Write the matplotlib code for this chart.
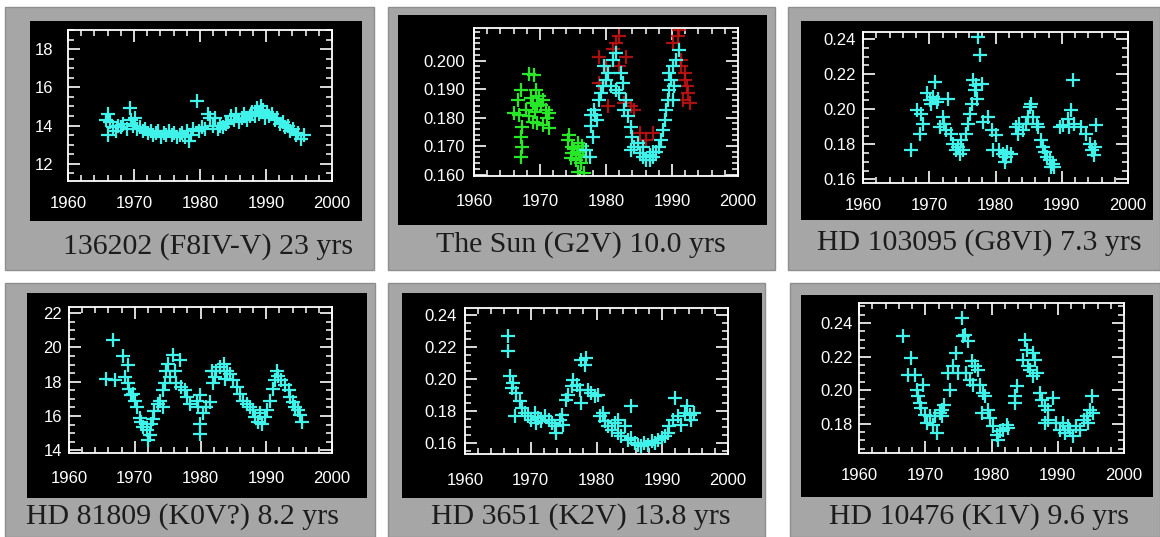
import matplotlib
matplotlib.use("Agg")
import matplotlib.pyplot as plt
from matplotlib.patches import Rectangle
from matplotlib.ticker import MultipleLocator, FormatStrFormatter, FixedLocator

# ---------------- data ----------------
captions = ["136202 (F8IV-V) 23 yrs", "The Sun (G2V) 10.0 yrs", "HD 103095 (G8VI) 7.3 yrs",
            "HD 81809 (K0V?) 8.2 yrs", "HD 3651 (K2V) 13.8 yrs", "HD 10476 (K1V) 9.6 yrs"]

p1_year = [1965.8, 1966.0, 1966.1, 1966.4, 1966.8, 1967.2, 1967.6, 1968.0, 1968.4, 1968.9,
           1969.4, 1969.6, 1969.9, 1970.2, 1970.5, 1970.9, 1971.3, 1971.7, 1972.1, 1972.5,
           1972.9, 1973.3, 1973.7, 1974.1, 1974.5, 1974.9, 1975.3, 1975.7, 1976.1, 1976.5,
           1976.9, 1977.3, 1977.7, 1978.0, 1978.3, 1978.7, 1979.0, 1979.6, 1979.9, 1980.3,
           1980.8, 1981.2, 1981.5, 1981.9, 1982.3, 1982.7, 1983.1, 1983.5, 1983.9, 1984.3,
           1984.7, 1985.1, 1985.5, 1985.9, 1986.3, 1986.7, 1987.1, 1987.5, 1987.9, 1988.3,
           1988.7, 1989.0, 1989.3, 1989.6, 1989.9, 1990.2, 1990.5, 1990.9, 1991.3, 1991.7,
           1992.1, 1992.5, 1992.9, 1993.3, 1993.7, 1994.1, 1994.5, 1994.9, 1995.3, 1995.7]
p1_value = [14.3, 14.6, 13.5, 14.2, 13.9, 13.7, 14.0, 13.9, 14.1, 13.8,
            14.9, 14.3, 14.0, 14.4, 13.8, 13.9, 13.7, 13.8, 13.6, 13.7,
            13.5, 13.6, 13.7, 13.4, 13.6, 13.5, 13.7, 13.5, 13.6, 13.4,
            13.5, 13.6, 13.4, 13.7, 13.2, 13.5, 13.8, 15.3, 13.7, 13.9,
            13.8, 14.6, 14.4, 14.0, 14.4, 13.8, 14.0, 13.9, 14.1, 14.2,
            14.5, 14.3, 14.6, 14.2, 14.4, 14.6, 14.3, 14.5, 14.7, 14.5,
            14.9, 14.6, 15.0, 14.8, 14.4, 14.7, 14.5, 14.6, 14.3, 14.4,
            14.1, 14.2, 13.9, 14.0, 13.7, 13.8, 13.5, 13.6, 13.3, 13.5]

sun_green_year = [1968.4, 1969.1, 1967.1, 1966.6, 1966.1, 1966.8, 1967.3, 1967.1, 1967.3, 1967.1,
                  1969.9, 1970.4, 1968.9, 1969.6, 1970.9, 1971.4, 1971.1, 1968.9, 1969.6, 1970.4,
                  1971.4, 1968.4, 1967.9, 1969.4, 1968.6, 1970.1, 1969.2,
                  1974.4, 1974.2, 1974.9, 1975.7, 1976.5, 1976.0, 1977.0, 1975.4, 1976.2, 1975.7,
                  1976.7, 1974.9, 1974.7, 1975.2, 1976.4, 1975.9]
sun_green_value = [0.1953, 0.1950, 0.1897, 0.1862, 0.1815, 0.1810, 0.1768, 0.1733, 0.1698, 0.1663,
                   0.1874, 0.1862, 0.1850, 0.1839, 0.1827, 0.1815, 0.1798, 0.1786, 0.1780, 0.1774,
                   0.1763, 0.1804, 0.1827, 0.1897, 0.1868, 0.1845, 0.1820,
                   0.1739, 0.1722, 0.1698, 0.1710, 0.1686, 0.1669, 0.1663, 0.1651, 0.1640, 0.1610,
                   0.1604, 0.1675, 0.1657, 0.1690, 0.1700, 0.1680]

sun_red_year = [1982.0, 1981.5, 1979.0, 1980.0, 1982.0, 1983.0, 1982.8, 1983.8, 1984.3, 1985.1,
                1986.1, 1987.1, 1990.1, 1990.9, 1991.1, 1991.3, 1991.9, 1992.2, 1992.4, 1992.7,
                1991.6, 1991.4, 1992.0, 1980.3, 1979.0, 1981.0]
sun_red_value = [0.2085, 0.2061, 0.2014, 0.1979, 0.1979, 0.2014, 0.1850, 0.1839, 0.1827, 0.1745,
                 0.1722, 0.1745, 0.2061, 0.2085, 0.2108, 0.1979, 0.1932, 0.1909, 0.1885, 0.1850,
                 0.1862, 0.2003, 0.1956, 0.1839, 0.1920, 0.2040]

sun_cyan_year = [1977.0, 1977.5, 1978.0, 1977.7, 1978.2, 1978.4, 1978.7, 1979.0, 1979.2, 1979.5,
                 1980.0, 1980.3, 1979.7, 1981.0, 1981.5, 1980.8, 1981.5, 1982.0, 1982.5, 1982.3,
                 1983.0, 1982.8, 1983.3, 1983.8, 1984.0, 1984.3, 1983.8, 1985.1, 1985.6, 1986.1,
                 1986.6, 1987.1, 1987.6, 1988.1, 1988.4, 1988.6, 1988.9, 1989.1, 1989.4, 1989.6,
                 1989.9, 1989.6, 1990.1, 1990.6, 1991.1, 1990.1, 1990.3, 1984.8, 1985.6, 1987.1,
                 1986.6, 1977.7]
sun_cyan_value = [0.1686, 0.1660, 0.1733, 0.1770, 0.1827, 0.1810, 0.1792, 0.1862, 0.1885, 0.1909,
                  0.1932, 0.1956, 0.1979, 0.2003, 0.2026, 0.1909, 0.1897, 0.1885, 0.1920, 0.1956,
                  0.1862, 0.1827, 0.1804, 0.1768, 0.1733, 0.1698, 0.1686, 0.1675, 0.1663, 0.1651,
                  0.1669, 0.1663, 0.1680, 0.1698, 0.1722, 0.1757, 0.1792, 0.1827, 0.1862, 0.1897,
                  0.1932, 0.1956, 0.1979, 0.2003, 0.2038, 0.1862, 0.1909, 0.1710, 0.1698, 0.1680,
                  0.1651, 0.1810]

p3_year = [1967.3, 1968.1, 1968.8, 1969.1, 1968.6, 1969.6, 1970.1, 1970.6, 1971.1, 1970.8,
           1970.3, 1971.3, 1972.1, 1971.6, 1972.6, 1972.8, 1972.3, 1973.3, 1973.6, 1974.1,
           1974.6, 1975.1, 1974.8, 1974.3, 1975.6, 1975.8, 1976.1, 1976.4, 1976.6, 1976.9,
           1977.1, 1977.4, 1977.6, 1977.2, 1977.9, 1978.1, 1978.9, 1979.4, 1980.1, 1979.6,
           1980.6, 1981.1, 1981.6, 1981.8, 1981.4, 1982.4, 1983.1, 1983.4, 1983.6, 1984.2,
           1984.6, 1984.9, 1985.2, 1985.4, 1985.7, 1986.2, 1986.4, 1986.9, 1987.2, 1987.4,
           1987.7, 1988.2, 1988.7, 1988.9, 1988.4, 1989.7, 1990.2, 1990.9, 1991.4, 1991.7,
           1991.8, 1991.1, 1992.9, 1993.7, 1994.2, 1994.5, 1995.0, 1994.8, 1995.2]
p3_value = [0.1767, 0.1994, 0.1975, 0.1918, 0.1861, 0.2090, 0.2051, 0.2070, 0.2042, 0.2156,
            0.2032, 0.2061, 0.1956, 0.1899, 0.1880, 0.2061, 0.1918, 0.1861, 0.1804, 0.1767,
            0.1748, 0.1767, 0.1823, 0.1785, 0.1861, 0.1918, 0.1975, 0.2032, 0.2165, 0.2108,
            0.2137, 0.2412, 0.2307, 0.2061, 0.2146, 0.1928, 0.1956, 0.1880, 0.1852, 0.1767,
            0.1767, 0.1748, 0.1729, 0.1757, 0.1700, 0.1748, 0.1899, 0.1861, 0.1918, 0.1880,
            0.1918, 0.1956, 0.2013, 0.2032, 0.1956, 0.1918, 0.1899, 0.1823, 0.1786, 0.1757,
            0.1729, 0.1710, 0.1691, 0.1672, 0.1672, 0.1899, 0.1909, 0.1947, 0.1994, 0.2165,
            0.1918, 0.1899, 0.1899, 0.1861, 0.1804, 0.1767, 0.1785, 0.1738, 0.1909]

p4_year = [1965.7, 1966.7, 1967.0, 1968.2, 1969.0, 1968.5, 1969.0, 1969.2, 1969.7, 1970.0,
           1969.5, 1970.3, 1970.8, 1971.0, 1971.3, 1971.8, 1972.3, 1972.0, 1972.5, 1972.8,
           1973.0, 1973.6, 1973.8, 1974.3, 1974.6, 1974.8, 1975.1, 1975.3, 1974.3, 1975.8,
           1976.1, 1976.3, 1976.9, 1977.1, 1977.6, 1977.9, 1978.4, 1979.4, 1979.9, 1979.6,
           1979.9, 1979.9, 1980.4, 1980.9, 1981.4, 1981.9, 1982.2, 1981.7, 1982.4, 1982.9,
           1983.5, 1984.0, 1984.5, 1983.7, 1985.0, 1985.5, 1986.0, 1986.5, 1987.0, 1987.5,
           1988.0, 1988.3, 1988.8, 1989.3, 1989.8, 1990.1, 1989.0, 1990.6, 1991.0, 1991.3,
           1991.6, 1991.8, 1992.3, 1992.8, 1993.4, 1993.6, 1994.1, 1994.4, 1994.9, 1995.1,
           1995.4]
p4_value = [18.17, 20.40, 18.08, 19.50, 18.95, 18.27, 17.90, 17.60, 17.30, 16.90,
            17.20, 16.50, 15.90, 15.65, 15.35, 15.20, 14.90, 14.60, 15.55, 15.85,
            16.30, 16.70, 16.90, 17.50, 17.90, 18.65, 19.05, 18.27, 16.50, 19.55,
            18.65, 17.90, 19.25, 17.70, 17.50, 17.10, 16.70, 16.90, 17.20, 16.50,
            15.55, 14.97, 16.15, 16.50, 16.80, 17.90, 18.27, 18.65, 18.65, 18.85,
            19.05, 18.65, 18.47, 18.17, 18.08, 17.70, 17.30, 16.90, 16.70, 16.50,
            16.33, 15.95, 15.65, 15.55, 15.95, 16.33, 16.15, 16.90, 17.60, 18.08,
            18.65, 18.36, 18.08, 17.80, 17.50, 17.10, 16.80, 16.50, 16.33, 16.04,
            15.65]

p5_year = [1966.6, 1966.6, 1966.8, 1967.3, 1967.1, 1967.8, 1967.6, 1968.4, 1968.6, 1969.1,
           1969.6, 1970.1, 1970.6, 1971.1, 1971.6, 1970.8, 1972.2, 1972.7, 1973.2, 1973.7,
           1973.9, 1974.4, 1974.7, 1974.9, 1975.4, 1975.7, 1976.2, 1976.5, 1977.0, 1977.5,
           1977.7, 1978.2, 1978.4, 1977.7, 1978.7, 1979.2, 1979.7, 1980.2, 1980.5, 1981.0,
           1981.3, 1981.8, 1982.3, 1982.8, 1983.3, 1983.3, 1983.8, 1984.3, 1984.8, 1985.3,
           1985.3, 1985.8, 1986.3, 1986.8, 1987.3, 1987.8, 1988.4, 1988.9, 1989.4, 1989.9,
           1990.4, 1990.9, 1991.1, 1991.6, 1991.9, 1992.4, 1992.9, 1993.4, 1993.7, 1994.2,
           1994.4, 1994.9]
p5_value = [0.2269, 0.2175, 0.2019, 0.1977, 0.1946, 0.1915, 0.1769, 0.1863, 0.1821, 0.1790,
            0.1769, 0.1748, 0.1790, 0.1758, 0.1738, 0.1727, 0.1769, 0.1748, 0.1727, 0.1706,
            0.1665, 0.1748, 0.1779, 0.1717, 0.1873, 0.1904, 0.1956, 0.1998, 0.1967, 0.1935,
            0.2123, 0.2092, 0.2133, 0.1852, 0.1935, 0.1915, 0.1894, 0.1904, 0.1769, 0.1790,
            0.1738, 0.1706, 0.1685, 0.1727, 0.1665, 0.1748, 0.1644, 0.1706, 0.1623, 0.1831,
            0.1633, 0.1602, 0.1592, 0.1581, 0.1602, 0.1592, 0.1613, 0.1602, 0.1623, 0.1633,
            0.1644, 0.1665, 0.1706, 0.1748, 0.1883, 0.1769, 0.1717, 0.1790, 0.1831, 0.1779,
            0.1748, 0.1790]

p6_year = [1966.6, 1967.9, 1967.4, 1968.4, 1968.7, 1968.9, 1969.2, 1969.7, 1969.4, 1969.9,
           1970.2, 1970.7, 1971.2, 1971.4, 1971.7, 1972.2, 1972.5, 1972.9, 1972.6, 1973.7,
           1973.5, 1974.2, 1974.7, 1974.9, 1975.5, 1975.7, 1976.0, 1976.5, 1976.2, 1976.7,
           1977.0, 1977.5, 1977.2, 1978.0, 1978.2, 1978.7, 1979.0, 1978.5, 1979.5, 1979.7,
           1980.3, 1980.8, 1981.3, 1981.8, 1982.3, 1982.5, 1981.0, 1983.5, 1983.8, 1983.5,
           1984.8, 1985.0, 1985.3, 1985.5, 1985.8, 1986.3, 1986.5, 1986.8, 1986.3, 1987.3,
           1987.6, 1988.1, 1988.6, 1989.3, 1988.6, 1988.1, 1989.8, 1990.3, 1990.8, 1991.1,
           1991.6, 1991.8, 1992.3, 1992.8, 1993.4, 1993.9, 1994.4, 1994.6, 1994.9, 1995.1,
           1995.3]
p6_value = [0.2321, 0.2191, 0.2092, 0.2092, 0.2003, 0.1963, 0.1923, 0.2032, 0.1893, 0.1853,
            0.1804, 0.1844, 0.1794, 0.1844, 0.1744, 0.1863, 0.1883, 0.1913, 0.1844, 0.2003,
            0.2102, 0.2142, 0.2221, 0.2102, 0.2430, 0.2321, 0.2331, 0.2291, 0.2102, 0.2062,
            0.2172, 0.2142, 0.2032, 0.2122, 0.2032, 0.1983, 0.1963, 0.1863, 0.1883, 0.1834,
            0.1784, 0.1734, 0.1754, 0.1764, 0.1794, 0.1774, 0.1704, 0.1963, 0.2022, 0.1923,
            0.2182, 0.2301, 0.2241, 0.2142, 0.2122, 0.2221, 0.2182, 0.2102, 0.2082, 0.1983,
            0.1943, 0.1903, 0.1883, 0.1953, 0.1824, 0.1804, 0.1804, 0.1764, 0.1804, 0.1744,
            0.1784, 0.1764, 0.1724, 0.1784, 0.1764, 0.1824, 0.1844, 0.1804, 0.1883, 0.1963,
            0.1863]

# y tick values shown on each panel
yticks = [[12, 14, 16, 18],
          [0.160, 0.170, 0.180, 0.190, 0.200],
          [0.16, 0.18, 0.20, 0.22, 0.24],
          [14, 16, 18, 20, 22],
          [0.16, 0.18, 0.20, 0.22, 0.24],
          [0.18, 0.20, 0.22, 0.24]]

# ---------------- layout (pixels, top-left origin) ----------------
W, H = 1160, 537
frames = [(5, 7, 374, 270), (388, 7, 775, 270), (788, 7, 1160, 270),
          (5, 283, 375, 537), (388, 283, 765, 537), (790, 283, 1160, 537)]
blacks = [(30, 21, 362, 221), (398, 15, 767, 225), (801, 21, 1153, 220),
          (27, 293, 367, 498), (402, 293, 762, 498), (801, 295, 1153, 497)]
boxes = [(68, 30, 332, 181), (474, 28, 738, 176), (863, 32, 1128, 183),
         (69, 307, 332, 453), (465, 308, 728, 454), (859, 303, 1124, 453)]
cap_pos = [(208, 247), (581, 245), (979, 243), (182, 517), (581, 517), (979, 517)]
ylims = [(11.1, 19.0), (0.1595, 0.2114), (0.158, 0.244),
         (13.85, 22.35), (0.1533, 0.2446), (0.1625, 0.252)]
yminor = [0.5, 0.002, 0.005, 0.5, 0.005, 0.005]
yfmt = ['%d', '%.3f', '%.2f', '%d', '%.2f', '%.2f']
ypad = [10.5, 6.5, 5, 5, 5.8, 4.3]
xpad = [11, 13, 11, 13, 14, 11]

GRAY = '#a6a6a6'
CYAN = '#3ff2ea'
GREEN = '#27e827'
RED = '#c81414'


def fig_rect(r):
    x0, y0, x1, y1 = r
    return [x0 / W, 1 - y1 / H, (x1 - x0) / W, (y1 - y0) / H]


fig = plt.figure(figsize=(W / 100, H / 100), dpi=100, facecolor='white')

for i in range(6):
    l, b, w, h = fig_rect(frames[i])
    fig.add_artist(Rectangle((l, b), w, h, transform=fig.transFigure,
                             facecolor=GRAY, edgecolor='#8e8e8e', lw=1.0, zorder=-3))
    l, b, w, h = fig_rect(blacks[i])
    fig.add_artist(Rectangle((l, b), w, h, transform=fig.transFigure,
                             facecolor='black', edgecolor='none', zorder=-2))
    cx, cy = cap_pos[i]
    fig.text(cx / W, 1 - cy / H, captions[i], ha='center', va='center',
             family='Liberation Serif', size=21.5, color='#1c1c1c')

axes = []
for i in range(6):
    ax = fig.add_axes(fig_rect(boxes[i]))
    ax.set_zorder(2)
    ax.set_facecolor('black')
    ax.set_xlim(1960, 2000)
    ax.set_ylim(*ylims[i])
    for s in ax.spines.values():
        s.set_color('white')
        s.set_linewidth(1.3)
    ax.xaxis.set_major_locator(MultipleLocator(10))
    ax.xaxis.set_minor_locator(MultipleLocator(2))
    ax.yaxis.set_major_locator(FixedLocator(yticks[i]))
    ax.yaxis.set_minor_locator(MultipleLocator(yminor[i]))
    ax.yaxis.set_major_formatter(FormatStrFormatter(yfmt[i]))
    ax.tick_params(which='both', direction='in', colors='white', top=True, right=True)
    ax.tick_params(which='major', length=8.5, width=1.2)
    ax.tick_params(which='minor', length=4.3, width=1.1)
    ax.tick_params(axis='x', which='major', pad=xpad[i])
    ax.tick_params(axis='y', which='major', pad=ypad[i])
    for lab in ax.get_xticklabels() + ax.get_yticklabels():
        lab.set_family('Liberation Sans')
        lab.set_fontsize(12)
        lab.set_color('white')
    axes.append(ax)

mk = dict(linestyle='none', marker='+', markersize=10, mew=1.6)
axes[0].plot(p1_year, p1_value, color=CYAN, **mk)
axes[1].plot(sun_red_year, sun_red_value, color=RED, alpha=0.85, **mk)
axes[1].plot(sun_green_year, sun_green_value, color=GREEN, **mk)
axes[1].plot(sun_cyan_year, sun_cyan_value, color=CYAN, **mk)
axes[2].plot(p3_year, p3_value, color=CYAN, **mk)
axes[3].plot(p4_year, p4_value, color=CYAN, **mk)
axes[4].plot(p5_year, p5_value, color=CYAN, **mk)
axes[5].plot(p6_year, p6_value, color=CYAN, **mk)

fig.savefig('out.png', dpi=100, facecolor='white')
